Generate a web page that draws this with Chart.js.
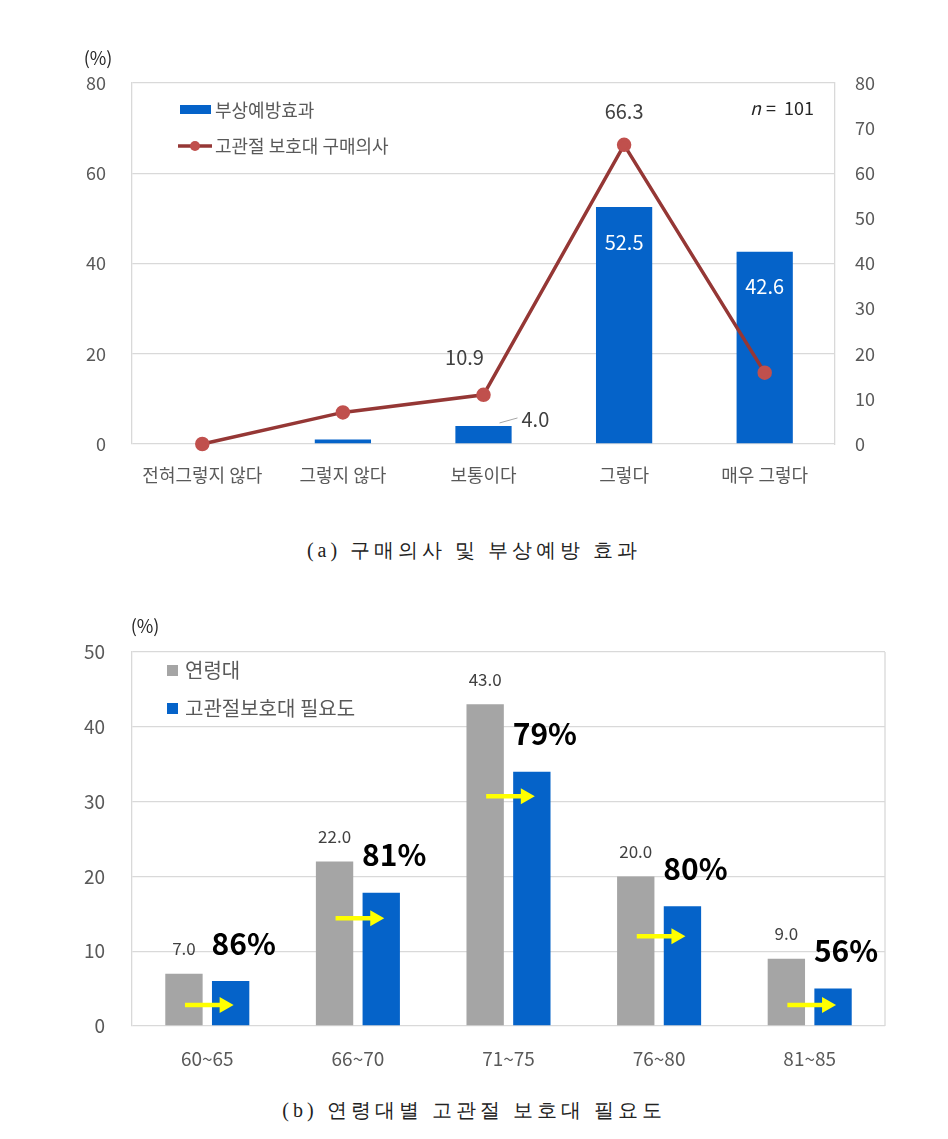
<!DOCTYPE html>
<html><head><meta charset="utf-8">
<script src="https://cdn.jsdelivr.net/npm/chart.js@4.4.1/dist/chart.umd.min.js"></script>
<style>
body{margin:0;background:#fff;width:948px;height:1139px;position:relative;overflow:hidden;font-family:'Noto Sans CJK KR',sans-serif;}
#wa{position:absolute;left:0;top:0;width:948px;height:500px;}
#wb{position:absolute;left:0;top:600px;width:948px;height:480px;}
.cap{position:absolute;left:0;width:948px;text-align:center;font-family:serif;font-size:20px;letter-spacing:4px;color:#222;line-height:24px;}
</style></head><body>
<div id="wa"><canvas id="ca" width="948" height="500"></canvas></div>
<div class="cap" style="top:538px;">(a) 구매의사 및 부상예방 효과</div>
<div id="wb"><canvas id="cb" width="948" height="480"></canvas></div>
<div class="cap" style="top:1098px;">(b) 연령대별 고관절 보호대 필요도</div>
<script>
// ---- Chart (a) data ----
const responseCats = ['전혀그렇지 않다','그렇지 않다','보통이다','그렇다','매우 그렇다'];
const injuryPrevention = [0, 1.0, 4.0, 52.5, 42.6];
const purchaseIntent = [0, 7.0, 10.9, 66.3, 15.8];
const seriesNamesA = ['부상예방효과','고관절 보호대 구매의사'];
const sampleNote = '101';

// ---- Chart (b) data ----
const ageGroups = ['60~65','66~70','71~75','76~80','81~85'];
const ageShare = [7.0, 22.0, 43.0, 20.0, 9.0];
const needShare = [6.0, 17.8, 34.0, 16.0, 5.0];
const needRate = ['86%','81%','79%','80%','56%'];
const arrowLevels = [2.8, 14.4, 30.7, 12.0, 2.8];
const seriesNamesB = ['연령대','고관절보호대 필요도'];

const F = "'Noto Sans CJK KR','Noto Sans',sans-serif";
const BLUE = '#0563C9', GRAY = '#A5A5A5', GRID = '#d9d9d9', TICK = '#595959', LBL = '#404040';

function txt(ctx, s, x, y, font, color, align, base){
  ctx.save(); ctx.font = font; ctx.fillStyle = color;
  ctx.textAlign = align || 'center'; ctx.textBaseline = base || 'middle';
  ctx.fillText(s, x, y); ctx.restore();
}

const pluginA = {
  id: 'annA',
  afterDatasetsDraw(chart){
    const ctx = chart.ctx;
    const bars = chart.getDatasetMeta(1).data;
    const pts = chart.getDatasetMeta(0).data;
    [3,4].forEach(i => txt(ctx, injuryPrevention[i].toFixed(1), bars[i].x, bars[i].y + 35, '20px ' + F, '#fff'));
    const b = bars[2];
    ctx.save(); ctx.strokeStyle = '#a6a6a6'; ctx.lineWidth = 1;
    ctx.beginPath(); ctx.moveTo(b.x + 16, b.y - 3); ctx.lineTo(b.x + 34, b.y - 8); ctx.stroke(); ctx.restore();
    txt(ctx, injuryPrevention[2].toFixed(1), b.x + 38, b.y - 7, '20px ' + F, LBL, 'left');
    txt(ctx, purchaseIntent[3].toFixed(1), pts[3].x, pts[3].y - 33, '20px ' + F, LBL);
    txt(ctx, purchaseIntent[2].toFixed(1), pts[2].x - 19, pts[2].y - 37, '20px ' + F, LBL);
  },
  afterDraw(chart){
    const ctx = chart.ctx;
    txt(ctx, '(%)', 98, 58, '18px ' + F, '#262626');
    // legend
    ctx.save();
    ctx.fillStyle = BLUE; ctx.fillRect(180, 105, 31, 9);
    ctx.strokeStyle = '#953735'; ctx.lineWidth = 3.5;
    ctx.beginPath(); ctx.moveTo(178, 146); ctx.lineTo(212, 146); ctx.stroke();
    ctx.fillStyle = '#C0504D'; ctx.beginPath(); ctx.arc(195, 146, 5, 0, Math.PI*2); ctx.fill();
    ctx.restore();
    txt(ctx, seriesNamesA[0], 215, 110, '18px ' + F, TICK, 'left');
    txt(ctx, seriesNamesA[1], 215, 146, '18px ' + F, TICK, 'left');
    txt(ctx, 'n', 750, 108, 'italic 18px ' + F, '#262626', 'left');
    txt(ctx, '=  ' + sampleNote, 766, 108, '18px ' + F, '#262626', 'left');
  }
};

new Chart(document.getElementById('ca'), {
  data: {
    labels: responseCats,
    datasets: [
      { type: 'line', label: seriesNamesA[1], data: purchaseIntent, yAxisID: 'y1', order: 0,
        borderColor: '#953735', borderWidth: 3.5, pointBackgroundColor: '#C0504D', pointBorderColor: '#C0504D',
        pointRadius: 5.5, pointHoverRadius: 5.5, tension: 0, clip: false },
      { type: 'bar', label: seriesNamesA[0], data: injuryPrevention, yAxisID: 'y', order: 1,
        backgroundColor: BLUE, categoryPercentage: 0.5, barPercentage: 0.8 }
    ]
  },
  options: {
    responsive: false, animation: false,
    layout: { padding: { top: 83, left: 0, right: 0, bottom: 0 } },
    plugins: { legend: { display: false }, tooltip: { enabled: false } },
    scales: {
      x: { grid: { display: false }, border: { display: false },
           ticks: { font: { family: F, size: 18 }, color: TICK, padding: 12 },
           afterFit(s){ s.height = 56; } },
      y: { position: 'left', min: 0, max: 80, ticks: { stepSize: 20, font: { family: F, size: 18 }, color: TICK, padding: 26 },
           grid: { color: GRID, drawTicks: false, lineWidth: 1.3 }, border: { display: true, color: GRID, width: 1.3 },
           afterFit(s){ s.width = 132; } },
      y1: { position: 'right', min: 0, max: 80, ticks: { stepSize: 10, font: { family: F, size: 18 }, color: TICK, padding: 20 },
           grid: { display: false, drawTicks: false }, border: { display: true, color: GRID, width: 1.3 },
           afterFit(s){ s.width = 113; } }
    }
  },
  plugins: [pluginA]
});

const pluginB = {
  id: 'annB',
  beforeDatasetsDraw(chart){
    const a = chart.chartArea, ctx = chart.ctx;
    ctx.save(); ctx.strokeStyle = GRID; ctx.lineWidth = 1.3;
    ctx.beginPath(); ctx.moveTo(a.right, a.top); ctx.lineTo(a.right, a.bottom); ctx.stroke(); ctx.restore();
  },
  afterDatasetsDraw(chart){
    const ctx = chart.ctx, ys = chart.scales.y;
    const g = chart.getDatasetMeta(0).data, b = chart.getDatasetMeta(1).data;
    g.forEach((bar, i) => txt(ctx, ageShare[i].toFixed(1), bar.x, bar.y - 25, '17px ' + F, LBL));
    b.forEach((bar, i) => txt(ctx, needRate[i], bar.x + 13, bar.y - 38, 'bold 30px ' + F, '#000'));
    // yellow arrows
    ctx.save(); ctx.fillStyle = '#FFFF00'; ctx.strokeStyle = '#FFFF00';
    arrowLevels.forEach((lv, i) => {
      const y = ys.getPixelForValue(lv);
      const x0 = g[i].x + 1, x1 = b[i].x + 3;
      ctx.lineWidth = 4.5;
      ctx.beginPath(); ctx.moveTo(x0, y); ctx.lineTo(x1 - 12, y); ctx.stroke();
      ctx.beginPath(); ctx.moveTo(x1 - 14, y - 8); ctx.lineTo(x1, y); ctx.lineTo(x1 - 14, y + 8); ctx.closePath(); ctx.fill();
    });
    ctx.restore();
  },
  afterDraw(chart){
    const ctx = chart.ctx;
    txt(ctx, '(%)', 145, 26, '18px ' + F, '#262626');
    ctx.save();
    ctx.fillStyle = GRAY; ctx.fillRect(167, 65, 11, 11);
    ctx.fillStyle = BLUE; ctx.fillRect(167, 103, 11, 11);
    ctx.restore();
    txt(ctx, seriesNamesB[0], 185, 70, '20px ' + F, TICK, 'left');
    txt(ctx, seriesNamesB[1], 185, 108, '20px ' + F, TICK, 'left');
  }
};

new Chart(document.getElementById('cb'), {
  type: 'bar',
  data: {
    labels: ageGroups,
    datasets: [
      { label: seriesNamesB[0], data: ageShare, backgroundColor: GRAY, categoryPercentage: 0.62, barPercentage: 0.8 },
      { label: seriesNamesB[1], data: needShare, backgroundColor: BLUE, categoryPercentage: 0.62, barPercentage: 0.8 }
    ]
  },
  options: {
    responsive: false, animation: false,
    layout: { padding: { top: 52, left: 0, right: 63, bottom: 0 } },
    plugins: { legend: { display: false }, tooltip: { enabled: false } },
    scales: {
      x: { grid: { display: false }, border: { display: false },
           ticks: { font: { family: F, size: 19 }, color: TICK, padding: 13 },
           afterFit(s){ s.height = 54; } },
      y: { min: 0, max: 50, ticks: { stepSize: 10, font: { family: F, size: 19 }, color: TICK, padding: 27 },
           grid: { color: GRID, drawTicks: false, lineWidth: 1.3 }, border: { display: true, color: GRID, width: 1.3 },
           afterFit(s){ s.width = 132; } }
    }
  },
  plugins: [pluginB]
});
</script>
</body></html>
